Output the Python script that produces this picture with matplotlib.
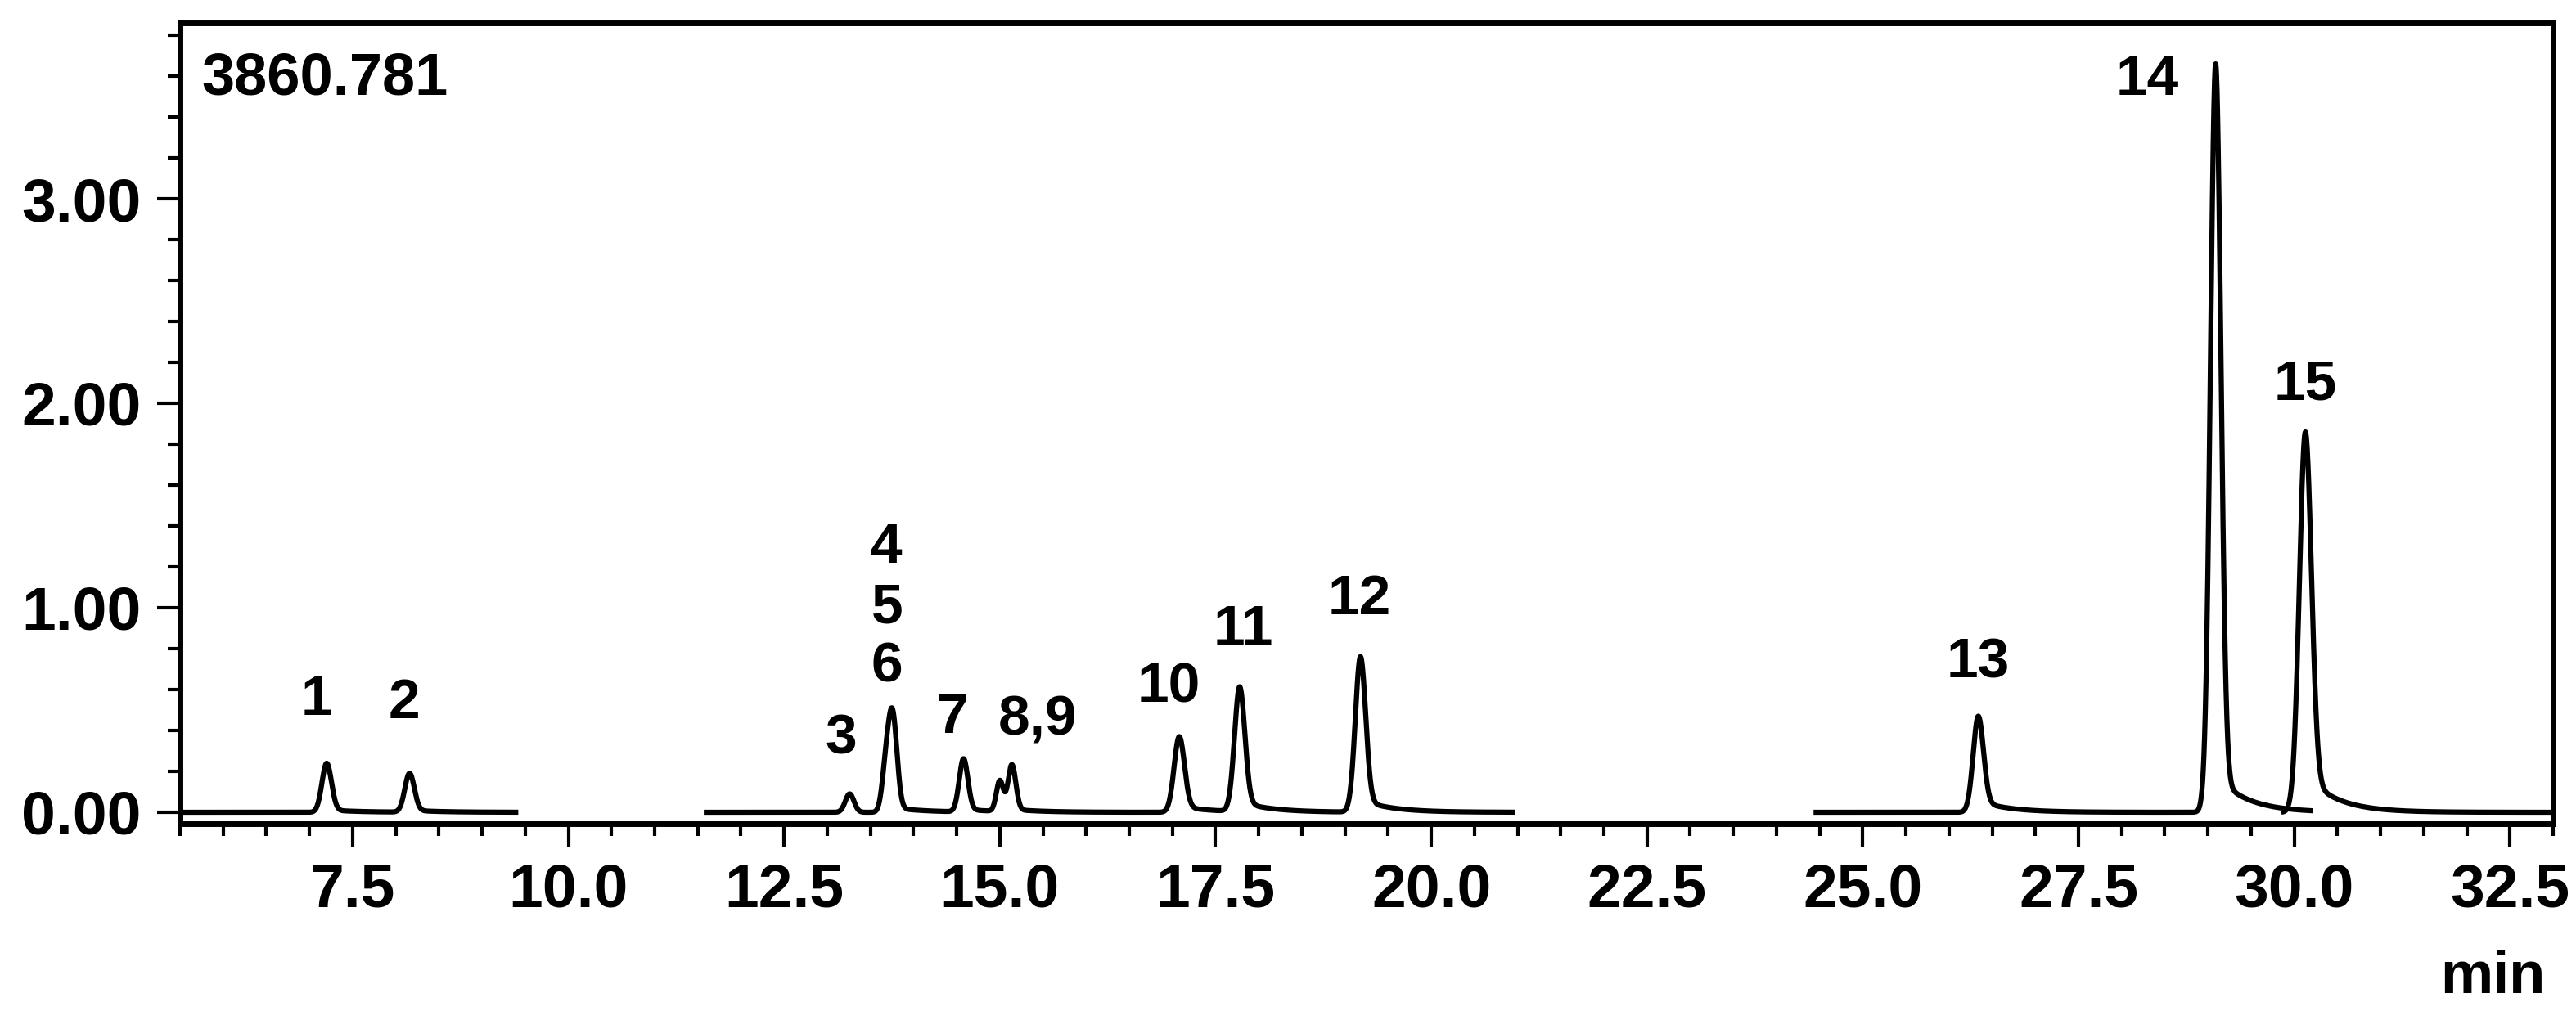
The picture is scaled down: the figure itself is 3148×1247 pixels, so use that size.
import numpy as np
import matplotlib.pyplot as plt
from matplotlib.ticker import MultipleLocator, FormatStrFormatter

# trace segments (start, end) in min
seg_start = [5.5, 11.57, 24.43, 29.85]
seg_end = [9.42, 20.97, 30.22, 33.0]

# peak table: retention time (min), height (x1000 mAU), width (sigma), tail fraction, segment
peak_rt = [7.20, 8.16, 13.26, 13.68, 13.76, 14.58, 15.00, 15.14, 17.08, 17.78, 19.18, 26.34, 29.09, 30.13]
peak_h = [0.24, 0.19, 0.09, 0.20, 0.46, 0.26, 0.15, 0.23, 0.37, 0.61, 0.76, 0.47, 3.66, 1.86]
peak_w = [0.055, 0.055, 0.05, 0.045, 0.05, 0.05, 0.04, 0.045, 0.06, 0.06, 0.06, 0.06, 0.06, 0.07]
peak_tail = [0.05, 0.05, 0.0, 0.0, 0.05, 0.05, 0.0, 0.05, 0.08, 0.08, 0.08, 0.12, 0.05, 0.10]
peak_seg = [0, 0, 1, 1, 1, 1, 1, 1, 1, 1, 1, 2, 2, 3]

labels = ["1", "2", "3", "4", "5", "6", "7", "8,9", "10", "11", "12", "13", "14", "15"]
label_x = [7.08, 8.10, 13.16, 13.69, 13.69, 13.69, 14.45, 15.44, 16.96, 17.82, 19.17, 26.34, 28.30, 30.13]
label_y = [0.55, 0.53, 0.36, 1.29, 1.00, 0.71, 0.46, 0.45, 0.61, 0.89, 1.04, 0.73, 3.58, 2.09]


def peak(x, rt, h, w, f, tau=0.35):
    d = x - rt
    g = np.exp(-0.5 * (d / w) ** 2)
    t = np.where(d > 0, np.exp(-np.clip(d, 0, None) / tau), g)
    return h * ((1 - f) * g + f * t)


W, H = 3148, 1247
fig = plt.figure(figsize=(W / 100, H / 100), dpi=100)
ax = fig.add_axes([220 / W, 1 - 1007 / H, 2900 / W, 979 / H])

for s in range(len(seg_start)):
    x = np.linspace(seg_start[s], seg_end[s], 3000)
    y = np.zeros_like(x)
    for i in range(len(peak_rt)):
        if peak_seg[i] == s:
            y += peak(x, peak_rt[i], peak_h[i], peak_w[i], peak_tail[i])
    ax.plot(x, y, color="black", lw=4.5, solid_joinstyle="round",
            solid_capstyle="butt")

for t, lx, ly in zip(labels, label_x, label_y):
    ax.text(lx, ly, t, ha="center", va="center", fontsize=50,
            fontweight="bold", family="Liberation Sans")

ax.set_xlim(5.5, 33.0)
ax.set_ylim(-0.056, 3.86)
ax.xaxis.set_major_locator(MultipleLocator(2.5))
ax.xaxis.set_minor_locator(MultipleLocator(0.5))
ax.yaxis.set_major_locator(MultipleLocator(1.0))
ax.yaxis.set_minor_locator(MultipleLocator(0.2))
ax.xaxis.set_major_formatter(FormatStrFormatter("%.1f"))
ax.yaxis.set_major_formatter(FormatStrFormatter("%.2f"))

ax.tick_params(which="major", length=20, width=3, direction="out", pad=14)
ax.tick_params(which="minor", length=11, width=3, direction="out")
for lab in ax.get_xticklabels() + ax.get_yticklabels():
    lab.set_family("Liberation Sans")
    lab.set_fontweight("bold")
    lab.set_fontsize(54)

for sp in ax.spines.values():
    sp.set_linewidth(5)

ax.text(0.009, 0.965, "3860.781", transform=ax.transAxes, ha="left", va="top",
        fontsize=52, fontweight="bold", family="Liberation Sans")
fig.text(3046 / W, 1 - 1195 / H, "min", ha="center", va="center", fontsize=52,
         fontweight="bold", family="Liberation Sans")

fig.savefig("out.png", dpi=100)
